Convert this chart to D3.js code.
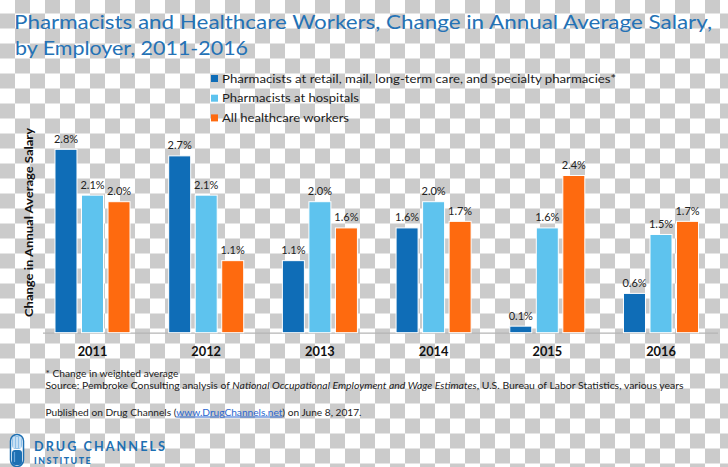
<!DOCTYPE html>
<html>
<head>
<meta charset="utf-8">
<script src="https://cdn.jsdelivr.net/npm/d3@7"></script>
<style>
  html, body { margin: 0; padding: 0; background: #fff; }
  svg { display: block; font-family: Lato, "Open Sans", sans-serif; }
</style>
</head>
<body>
<svg id="chart" width="728" height="467"></svg>
<script>
// ---- data ----
const years = ["2011", "2012", "2013", "2014", "2015", "2016"];
const seriesNames = [
  "Pharmacists at retail, mail, long-term care, and specialty pharmacies*",
  "Pharmacists at hospitals",
  "All healthcare workers"
];
const retailPharmacists = [2.8, 2.7, 1.1, 1.6, 0.1, 0.6];
const hospitalPharmacists = [2.1, 2.1, 2.0, 2.0, 1.6, 1.5];
const allHealthcareWorkers = [2.0, 1.1, 1.6, 1.7, 2.4, 1.7];
const seriesValues = [retailPharmacists, hospitalPharmacists, allHealthcareWorkers];

const titleLines = ["Pharmacists and Healthcare Workers, Change in Annual Average Salary,", "by Employer, 2011-2016"];
const yAxisTitle = "Change in Annual Average Salary";

// ---- styles ----
const colors = ["#0F6DB7", "#5EC3EE", "#FE6A0F"];
const titleColor = "#2472B6";
const textColor = "#1c1c1c";

const svg = d3.select("#chart");
const W = 728, H = 467;

// checkerboard background (as in the reference image)
const defs = svg.append("defs");
const pat = defs.append("pattern").attr("id", "checker")
  .attr("patternUnits", "userSpaceOnUse").attr("x", 0).attr("y", -1.5)
  .attr("width", 30).attr("height", 30);
pat.append("rect").attr("width", 30).attr("height", 30).attr("fill", "#ffffff");
pat.append("rect").attr("x", 15).attr("y", 0).attr("width", 15).attr("height", 15).attr("fill", "#cbcbcb");
pat.append("rect").attr("x", 0).attr("y", 15).attr("width", 15).attr("height", 15).attr("fill", "#cbcbcb");
svg.append("rect").attr("width", W).attr("height", H).attr("fill", "url(#checker)");

// ---- title ----
const titleG = svg.append("g").attr("fill", titleColor).style("font-size", "19px");
titleG.append("text").attr("x", 14).attr("y", 28.5).text(titleLines[0])
  .attr("textLength", 698).attr("lengthAdjust", "spacingAndGlyphs");
titleG.append("text").attr("x", 15).attr("y", 55).text(titleLines[1])
  .attr("textLength", 233).attr("lengthAdjust", "spacingAndGlyphs");

// ---- legend ----
const legendLens = [394, 137, 127];
const legend = svg.append("g").attr("transform", "translate(211,0)");
seriesNames.forEach((name, i) => {
  const cy = 78.5 + i * 19.7;
  legend.append("rect").attr("x", 0).attr("y", cy - 3.5).attr("width", 7).attr("height", 7).attr("fill", colors[i]);
  legend.append("text").attr("x", 11).attr("y", cy + 4).attr("fill", textColor)
    .style("font-size", "11.8px").text(name)
    .attr("textLength", legendLens[i]).attr("lengthAdjust", "spacingAndGlyphs");
});

// ---- scales ----
const x0 = d3.scaleBand().domain(years).range([35.65, 717.85]).paddingInner(0.34).paddingOuter(0.17);
const x1 = d3.scaleBand().domain(d3.range(seriesNames.length)).range([0, x0.bandwidth()]).paddingInner(0.17).paddingOuter(0);
const y = d3.scaleLinear().domain([0, 2.8]).range([332.7, 149.3]);

// baseline
svg.append("line").attr("x1", 43).attr("x2", 718).attr("y1", y(0) + 0.5).attr("y2", y(0) + 0.5)
  .attr("stroke", "#b5b5b5").attr("stroke-width", 1.2);

// bars
const groups = svg.append("g").selectAll("g").data(years).join("g")
  .attr("transform", d => `translate(${x0(d)},0)`);

const fmt = d3.format(".1f");
groups.each(function(year, yi) {
  const g = d3.select(this);
  seriesValues.forEach((vals, si) => {
    const v = vals[yi];
    g.append("rect")
      .attr("x", x1(si)).attr("width", x1.bandwidth())
      .attr("y", y(v)).attr("height", y(0) - y(v))
      .attr("fill", colors[si]).attr("stroke", "#ffffff").attr("stroke-width", 1);
    g.append("text")
      .attr("x", x1(si) + x1.bandwidth() / 2).attr("y", y(v) - 6.5)
      .attr("text-anchor", "middle").attr("fill", "#222")
      .style("font-size", "11px").text(fmt(v) + "%");
  });
});

// x axis labels
const xAxis = d3.axisBottom(x0).tickSize(0).tickPadding(0);
const xg = svg.append("g").attr("transform", `translate(0,${y(0)})`).call(xAxis);
xg.select(".domain").remove();
xg.selectAll("text").attr("dy", null).attr("y", 23.5)
  .style("font-family", "Lato, sans-serif").style("font-size", "12.8px").style("font-weight", "bold")
  .attr("fill", "#111");

// y axis title
svg.append("text").attr("transform", `translate(33,222.5) rotate(-90)`)
  .attr("text-anchor", "middle").attr("fill", "#111")
  .style("font-size", "11.8px").style("font-weight", "bold").text(yAxisTitle)
  .attr("textLength", 189).attr("lengthAdjust", "spacingAndGlyphs");

// ---- footnotes ----
const foot = svg.append("g").attr("fill", textColor).style("font-size", "9.8px");
foot.append("text").attr("x", 45.5).attr("y", 377).text("* Change in weighted average")
  .attr("textLength", 133).attr("lengthAdjust", "spacingAndGlyphs");
const src = foot.append("text").attr("x", 45.5).attr("y", 389)
  .attr("textLength", 638).attr("lengthAdjust", "spacingAndGlyphs");
src.append("tspan").text("Source: Pembroke Consulting analysis of ");
src.append("tspan").style("font-style", "italic").text("National Occupational Employment and Wage Estimates");
src.append("tspan").text(", U.S. Bureau of Labor Statistics, various years");

const pub = foot.append("text").attr("x", 45.5).attr("y", 415.5)
  .attr("textLength", 316).attr("lengthAdjust", "spacingAndGlyphs");
pub.append("tspan").text("Published on Drug Channels (");
pub.append("tspan").attr("fill", "#2a66d0").style("text-decoration", "underline").text("www.DrugChannels.net");
pub.append("tspan").text(") on June 8, 2017.");

// ---- logo ----
const logo = svg.append("g");
const logoBlue = "#1d6fb2";
logo.append("rect").attr("x", 10.5).attr("y", 434.5).attr("width", 13).attr("height", 32).attr("rx", 6.5)
  .attr("fill", "#ffffff").attr("stroke", logoBlue).attr("stroke-width", 1.5);
logo.append("rect").attr("x", 12).attr("y", 436).attr("width", 10).attr("height", 13).attr("rx", 4)
  .attr("fill", "#8fc0e8");
[14, 17, 20].forEach(xx => logo.append("line").attr("x1", xx).attr("x2", xx).attr("y1", 437).attr("y2", 448)
  .attr("stroke", "#ffffff").attr("stroke-width", 1));
logo.append("rect").attr("x", 12).attr("y", 450).attr("width", 10).attr("height", 15).attr("rx", 3)
  .attr("fill", logoBlue);
logo.append("line").attr("x1", 14.5).attr("x2", 14.5).attr("y1", 452).attr("y2", 462)
  .attr("stroke", "#6aa7db").attr("stroke-width", 1.2);
logo.append("text").attr("x", 34).attr("y", 450.5).attr("fill", logoBlue)
  .style("font-size", "12.6px").style("font-weight", "bold").text("DRUG CHANNELS")
  .attr("textLength", 131).attr("lengthAdjust", "spacing");
logo.append("text").attr("x", 34).attr("y", 463.5).attr("fill", logoBlue)
  .style("font-size", "8.8px").style("font-weight", "900").text("INSTITUTE")
  .attr("textLength", 56.5).attr("lengthAdjust", "spacing");
</script>
</body>
</html>
